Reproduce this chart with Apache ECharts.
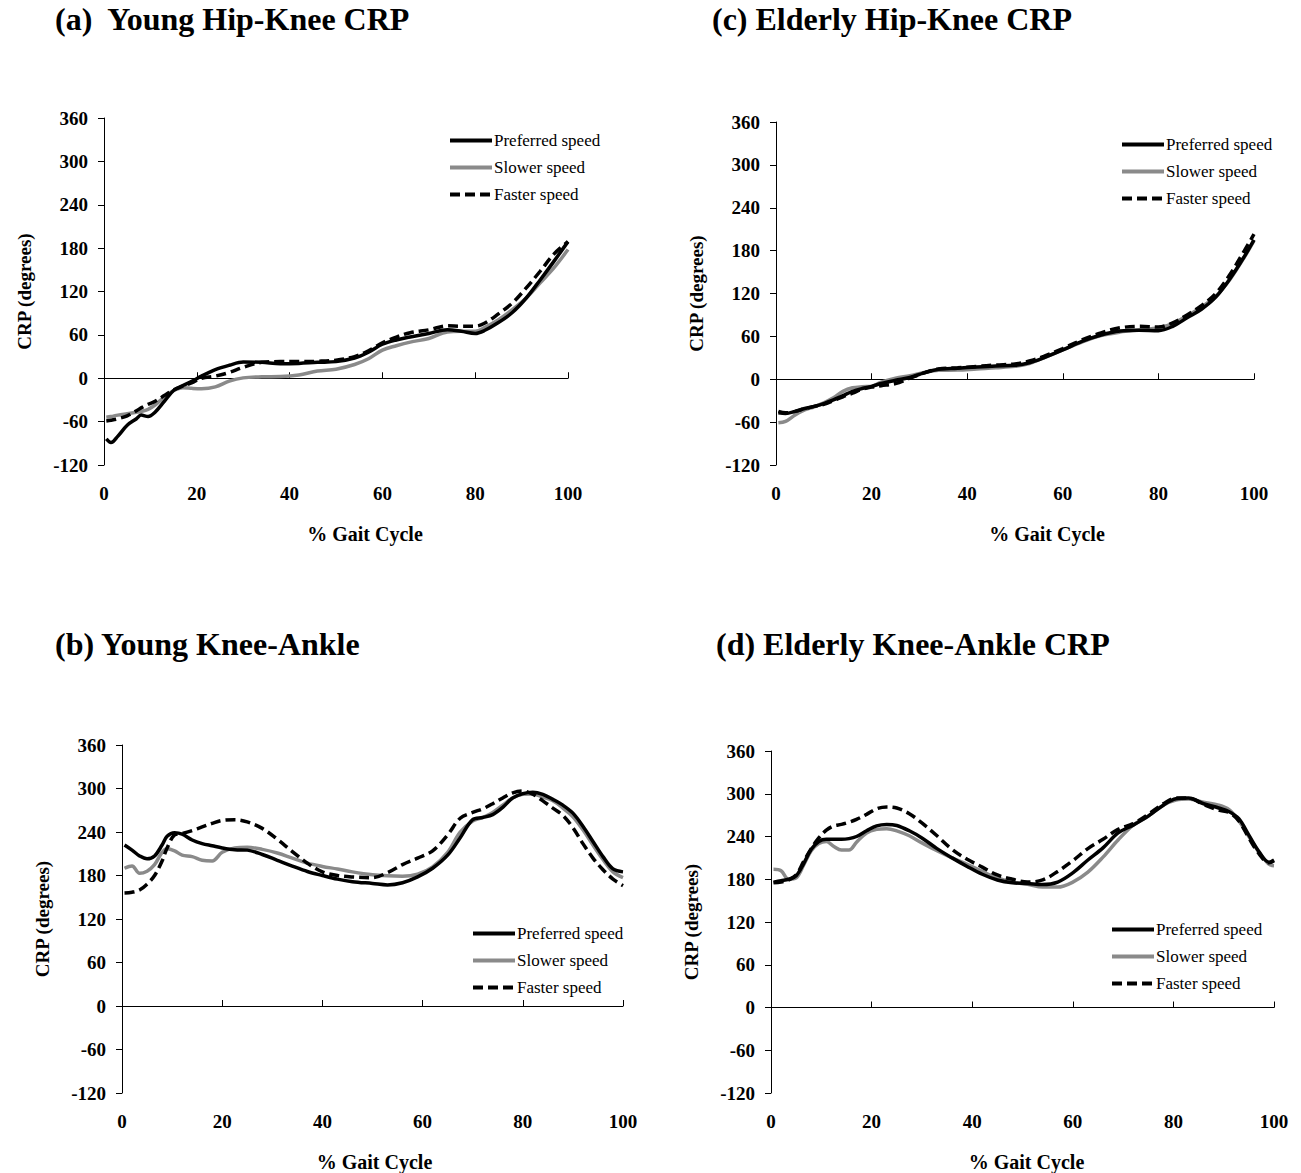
<!DOCTYPE html>
<html lang="en">
<head>
<meta charset="UTF-8" />
<title>CRP by gait speed</title>
<script src="https://cdn.jsdelivr.net/npm/echarts@6/dist/echarts.min.js"></script>
<style>
  html, body { margin: 0; padding: 0; background: #fff; }
  #main { width: 1301px; height: 1173px; }
</style>
</head>
<body>
<div id="main"></div>
<script>
// ---- data (x = % gait cycle, y = CRP in degrees) ----
var seriesNames = ['Preferred speed', 'Slower speed', 'Faster speed'];

// (a) Young Hip-Knee
var gaitA = [0.5, 1.5, 3, 5, 7, 8, 9.5, 11, 13, 15, 17, 19, 21, 24, 27, 30, 34, 38, 42, 46, 50, 54, 57, 60, 63, 66, 70, 74, 77, 80, 82, 85, 88, 91, 94, 97, 100];
var prefA = [-84, -89, -80, -65, -56, -51, -53, -47, -32, -17, -10, -4, 3, 12, 18, 22.5, 22, 20, 20.5, 22, 23, 28, 36, 47, 53, 57, 62, 67, 65, 62, 66, 77, 91, 111, 136, 162, 189];
var slowA = [-54, -53, -51, -49, -47, -46, -43, -37, -26, -17, -13, -14, -14.5, -12, -4, 0.5, 2, 2.3, 4.5, 10, 12.5, 19, 27, 39, 45, 50, 55, 64, 65, 65, 70, 81, 95, 111, 132, 153, 178];
var fastA = [-59, -58, -56, -52, -45, -41, -36, -32, -24, -16, -11, -6, 0, 3, 8, 15, 22, 23, 23, 23.5, 25, 30, 38, 49, 57, 63, 67, 72.5, 72, 72, 76, 89, 104, 125, 148, 172, 189];

// (b) Young Knee-Ankle
var gaitB = [0.5, 2, 3.5, 5, 6.5, 8, 9, 10.5, 12, 14, 16, 18, 20, 22.5, 25, 28, 31, 34, 37, 40, 43, 46, 50, 53, 56, 59, 62, 65, 67.5, 70, 72, 74, 76, 78, 80, 82, 84, 86, 88, 90, 92, 94, 96, 98, 100];
var prefB = [222, 215, 207, 203, 207, 222, 234, 239, 237, 229, 224, 221, 218, 215.5, 215, 209, 201, 193, 185.5, 180, 175, 171.5, 169, 167, 170, 178, 190, 208, 232, 257, 260, 264, 274, 287, 293, 295, 292, 285, 277, 266, 248, 227, 206, 189, 185];
var slowB = [190, 193, 183, 186, 195, 212, 217, 214, 208, 206, 201, 200, 212, 218, 219, 216, 211, 204, 197, 192.5, 189, 185, 181, 179.5, 179, 182, 192, 212, 240, 255, 260, 267, 277, 287, 292, 292.5, 288, 283, 273, 261, 243, 222, 202, 185, 177];
var fastB = [156, 157, 160, 168, 180, 200, 218, 236, 238, 242, 247, 252, 256, 257, 254, 245, 230, 213, 197, 185, 180, 178, 177, 184, 195, 204, 214, 236, 259, 267, 272, 279, 287, 294, 296.5, 292, 283, 273, 263, 246, 224, 204, 188, 175, 166];

// (c) Elderly Hip-Knee
var gaitC = [0.5, 2, 4, 6, 8, 10, 12, 14, 16, 18, 20, 22, 25, 28, 31, 34, 38, 42, 46, 50, 53, 56, 60, 64, 68, 72, 76, 80, 83, 86, 89, 92, 95, 98, 100];
var prefC = [-47, -48, -45, -41, -38, -34, -29, -23, -17, -13, -10, -6, -1.5, 2.5, 9, 14, 15.5, 17.2, 18.6, 19.5, 23, 30, 41, 53, 62, 67.5, 68.5, 68, 74, 86, 98, 115, 141, 172, 195];
var slowC = [-61, -59, -50, -43, -38.5, -33, -26, -17, -12, -10.5, -10, -4, 1.5, 5, 9.5, 12.6, 12.8, 14.5, 16, 18, 22, 30, 41, 52, 61, 66, 69, 72, 78, 89, 101, 116, 140, 171, 194];
var fastC = [-45, -47, -45, -41, -38, -35, -30, -24.5, -19.5, -14, -11, -9, -6, 1.5, 9, 14.5, 16, 18, 20, 21.5, 25.5, 32, 43, 55, 65, 72, 74, 73, 79, 90, 103, 120, 147, 180, 203];

// (d) Elderly Knee-Ankle
var gaitD = [0.5, 2, 3.5, 5, 6.5, 8, 9.5, 11, 12.5, 14, 15.5, 17, 19, 21, 23, 25, 27.5, 30, 33, 36, 39, 42, 45, 48, 51, 54, 57, 60, 63, 66, 69, 72, 75, 78, 80.5, 83, 86, 89, 91, 93, 95, 97, 99, 100];
var prefD = [176, 178, 180, 185, 202, 222, 233, 236, 236, 236, 237, 240, 248, 255, 257, 255.5, 248, 238, 223, 210, 198, 187, 179, 175, 174, 172.5, 176, 189, 207, 224, 245, 256, 268.6, 284, 293, 294, 286, 280, 275, 265, 242, 219, 204, 207];
var slowD = [194, 192, 180, 182, 200, 220, 230, 233, 226, 221, 221, 232, 245, 250, 251, 248, 241, 231, 220, 210, 201, 191, 182, 176, 173, 169, 169, 176, 190, 211, 235, 256, 268.6, 284, 291, 292.6, 288, 284, 278, 262, 240, 218, 201, 199];
var fastD = [175, 176, 179, 186, 205, 223, 238, 249, 255, 257, 260, 264, 271, 279, 281.5, 280, 272, 259, 241, 222, 208, 197, 186, 180, 176, 179, 191, 206, 223, 236, 250, 258, 271, 286, 294, 294, 285, 277, 274, 262, 238, 216, 203, 206];

var panelTitles = ['(a)  Young Hip-Knee CRP', '(b) Young Knee-Ankle', '(c) Elderly Hip-Knee CRP', '(d) Elderly Knee-Ankle CRP'];
var yTicks = { min: -120, max: 360, step: 60 };
var xTicks = { min: 0, max: 100, step: 20 };

// ---- layout ----
var FONT = 'Liberation Serif';
var panels = [
  { title: panelTitles[0], titlePos: [55, 3],   grid: { left: 104, top: 118, width: 464, height: 347 }, legend: [448, 132],  xNamePad: 58, data: [gaitA, prefA, slowA, fastA] },
  { title: panelTitles[1], titlePos: [55, 628], grid: { left: 122, top: 745, width: 501, height: 353 }, legend: [471, 925],  xNamePad: 4,  data: [gaitB, prefB, slowB, fastB] },
  { title: panelTitles[2], titlePos: [712, 3],  grid: { left: 776, top: 122, width: 478, height: 343 }, legend: [1120, 136], xNamePad: 64, data: [gaitC, prefC, slowC, fastC] },
  { title: panelTitles[3], titlePos: [716, 628], grid: { left: 771, top: 751, width: 503, height: 344 }, legend: [1110, 921], xNamePad: 8,  data: [gaitD, prefD, slowD, fastD] }
];

var lineStyles = [
  { color: '#000000', width: 3.5, type: 'solid' },
  { color: '#8a8a8a', width: 3.5, type: 'solid' },
  { color: '#000000', width: 3.5, type: [10, 5] }
];

function zip(xs, ys) {
  return xs.map(function (x, i) { return [x, ys[i]]; });
}

var option = {
  backgroundColor: '#ffffff',
  animation: false,
  title: [], grid: [], xAxis: [], yAxis: [], legend: [], series: []
};

panels.forEach(function (p, i) {
  option.title.push({
    text: p.title, left: p.titlePos[0], top: p.titlePos[1], padding: 0,
    textStyle: { fontFamily: FONT, fontWeight: 'bold', fontSize: 32, color: '#000' }
  });
  option.grid.push(p.grid);

  // labelled axis along the bottom (no line)
  option.xAxis.push({
    gridIndex: i, type: 'value', min: xTicks.min, max: xTicks.max, interval: xTicks.step,
    position: 'bottom',
    axisLine: { show: false, onZero: false },
    axisTick: { show: false },
    splitLine: { show: false },
    axisLabel: { margin: 19, fontFamily: FONT, fontWeight: 'bold', fontSize: 19, color: '#000' },
    name: '% Gait Cycle', nameLocation: 'middle', nameGap: 59,
    nameTextStyle: { fontFamily: FONT, fontWeight: 'bold', fontSize: 20, color: '#000', padding: [0, 0, 0, p.xNamePad] }
  });
  // axis line crossing at zero, ticks pointing up
  option.xAxis.push({
    gridIndex: i, type: 'value', min: xTicks.min, max: xTicks.max, interval: xTicks.step,
    position: 'bottom',
    axisLine: { show: true, onZero: true, lineStyle: { color: '#000', width: 1 } },
    axisTick: { show: true, inside: true, length: 6, lineStyle: { color: '#000', width: 1 } },
    axisLabel: { show: false },
    splitLine: { show: false }
  });

  option.yAxis.push({
    gridIndex: i, type: 'value', min: yTicks.min, max: yTicks.max, interval: yTicks.step,
    axisLine: { show: true, onZero: false, lineStyle: { color: '#000', width: 1 } },
    axisTick: { show: true, length: 6, lineStyle: { color: '#000', width: 1 } },
    splitLine: { show: false },
    axisLabel: { margin: 16, fontFamily: FONT, fontWeight: 'bold', fontSize: 19, color: '#000' },
    name: 'CRP (degrees)', nameLocation: 'middle', nameGap: 70,
    nameTextStyle: { fontFamily: FONT, fontWeight: 'bold', fontSize: 19, color: '#000' }
  });

  option.legend.push({
    orient: 'vertical', left: p.legend[0], top: p.legend[1], padding: 0,
    itemWidth: 42, itemHeight: 14, itemGap: 10,
    itemStyle: { opacity: 0 },
    lineStyle: { width: 4 },
    textStyle: { fontFamily: FONT, fontSize: 17, color: '#000', padding: [0, 0, 0, -3] },
    data: seriesNames.slice()
  });

  // draw slower first so black lines sit on top
  [1, 0, 2].forEach(function (k) {
    option.series.push({
      name: seriesNames[k], type: 'line',
      xAxisIndex: i * 2, yAxisIndex: i,
      data: zip(p.data[0], p.data[k + 1]),
      smooth: 0.35, symbol: 'none',
      lineStyle: lineStyles[k],
      itemStyle: { color: lineStyles[k].color }
    });
  });
});

var chart = echarts.init(document.getElementById('main'), null, { renderer: 'svg' });
chart.setOption(option);
</script>
</body>
</html>
